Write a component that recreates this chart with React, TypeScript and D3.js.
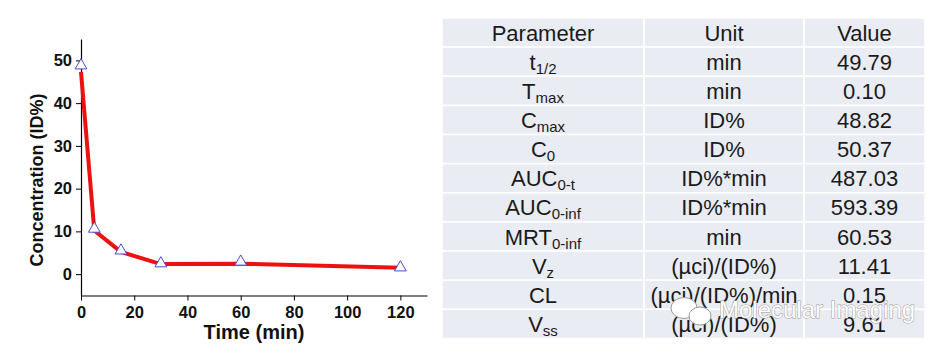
import { useEffect, useRef } from "react";
import * as d3 from "d3";

// measured samples (triangles)
const sampleTime = [0, 5, 15, 30, 60, 120];
const sampleConc = [48.8, 10.6, 5.5, 2.5, 2.9, 1.55];

// red fitted curve
const fitTime = [0, 5, 15, 30, 60, 120];
const fitConc = [47.3, 10.2, 5.2, 2.35, 2.45, 1.5];

const xMajorTicks = [0, 20, 40, 60, 80, 100, 120];
const xMinorTicks = [10, 30, 50, 70, 90, 110, 130];
const yMajorTicks = [0, 10, 20, 30, 40, 50];
const yMinorTicks = [-5, 5, 15, 25, 35, 45, 55];

// PK parameter table
const tableHeader = ["Parameter", "Unit", "Value"];
const paramMain = ["t", "T", "C", "C", "AUC", "AUC", "MRT", "V", "CL", "V"];
const paramSub = ["1/2", "max", "max", "0", "0-t", "0-inf", "0-inf", "z", "", "ss"];
const paramUnit = [
  "min",
  "min",
  "ID%",
  "ID%",
  "ID%*min",
  "ID%*min",
  "min",
  "(µci)/(ID%)",
  "(µci)/(ID%)/min",
  "(µci)/(ID%)",
];
const paramValue = ["49.79", "0.10", "48.82", "50.37", "487.03", "593.39", "60.53", "11.41", "0.15", "9.61"];

const W = 949;
const H = 354;
const FONT = "Arial, 'Liberation Sans', Helvetica, sans-serif";

const App = () => {
  const ref = useRef<SVGSVGElement>(null);

  useEffect(() => {
    const svg = d3.select(ref.current);
    svg.selectAll("*").remove();

    // ---- chart ----
    const x = d3.scaleLinear().domain([0, 130]).range([81, 427]);
    const y = d3.scaleLinear().domain([-5, 55]).range([295.5, 39]);

    const gx = svg.append("g").attr("transform", `translate(0,${y(-5)})`);
    gx.call(d3.axisBottom(x).tickValues(xMinorTicks).tickSize(3).tickSizeOuter(0).tickFormat(() => ""));
    gx.call(d3.axisBottom(x).tickValues(xMajorTicks).tickSize(5).tickSizeOuter(0).tickPadding(6));

    const gy = svg.append("g").attr("transform", `translate(${x(0)},0)`);
    gy.call(d3.axisLeft(y).tickValues(yMinorTicks).tickSize(3).tickSizeOuter(0).tickFormat(() => ""));
    gy.call(d3.axisLeft(y).tickValues(yMajorTicks).tickSize(5).tickSizeOuter(0).tickPadding(4));

    svg
      .selectAll(".domain")
      .attr("stroke", "#000")
      .attr("stroke-width", 1.2);
    svg.selectAll(".tick line").attr("stroke", "#000");
    svg
      .selectAll(".tick text")
      .attr("font-family", FONT)
      .attr("font-size", 16.5)
      .attr("font-weight", "bold")
      .attr("fill", "#111");

    const fit = fitTime.map((t, i) => ({ t, c: fitConc[i] }));
    const line = d3
      .line<{ t: number; c: number }>()
      .x((d) => x(d.t))
      .y((d) => y(d.c));
    svg
      .append("path")
      .datum(fit)
      .attr("fill", "none")
      .attr("stroke", "#ee1111")
      .attr("stroke-width", 4)
      .attr("stroke-linejoin", "round")
      .attr("d", line);

    const tri = d3.symbol().type(d3.symbolTriangle).size(60);
    svg
      .selectAll("path.pt")
      .data(sampleTime.map((t, i) => ({ t, c: sampleConc[i] })))
      .enter()
      .append("path")
      .attr("class", "pt")
      .attr("transform", (d) => `translate(${x(d.t)},${y(d.c)})`)
      .attr("d", tri)
      .attr("fill", "#fff")
      .attr("stroke", "#4a4ad0")
      .attr("stroke-width", 1);

    svg
      .append("text")
      .attr("x", 254)
      .attr("y", 339)
      .attr("text-anchor", "middle")
      .attr("font-family", FONT)
      .attr("font-size", 20)
      .attr("font-weight", "bold")
      .attr("fill", "#111")
      .text("Time (min)");

    svg
      .append("text")
      .attr("transform", "translate(43,180) rotate(-90)")
      .attr("text-anchor", "middle")
      .attr("font-family", FONT)
      .attr("font-size", 18)
      .attr("font-weight", "bold")
      .attr("fill", "#111")
      .text("Concentration (ID%)");

    // ---- table ----
    const colEdges = [442, 644, 804, 925];
    const nRows = paramMain.length + 1;
    const row = d3.scaleLinear().domain([0, nRows]).range([18, 338.5]);
    const rowH = row(1) - row(0);

    const tbl = svg.append("g");
    for (let r = 0; r < nRows; r++) {
      for (let c = 0; c < 3; c++) {
        tbl
          .append("rect")
          .attr("x", colEdges[c])
          .attr("y", row(r))
          .attr("width", colEdges[c + 1] - colEdges[c])
          .attr("height", rowH)
          .attr("fill", "#e9ecf2")
          .attr("stroke", "#fff")
          .attr("stroke-width", 1.5);
      }
    }

    const colMid = (c: number) => (colEdges[c] + colEdges[c + 1]) / 2;
    const cellText = (r: number, c: number) =>
      tbl
        .append("text")
        .attr("x", colMid(c))
        .attr("y", row(r) + rowH / 2 + 8)
        .attr("text-anchor", "middle")
        .attr("font-family", FONT)
        .attr("font-size", 22)
        .attr("fill", "#1a1a1a");

    tableHeader.forEach((h, c) => cellText(0, c).text(h));
    paramMain.forEach((p, i) => {
      const t = cellText(i + 1, 0);
      t.append("tspan").text(p);
      if (paramSub[i]) {
        t.append("tspan").attr("font-size", 15).attr("dy", 4).text(paramSub[i]);
      }
      cellText(i + 1, 1).text(paramUnit[i]);
      cellText(i + 1, 2).text(paramValue[i]);
    });

    // ---- watermark ----
    const wm = svg.append("g");
    wm.append("ellipse")
      .attr("cx", 684)
      .attr("cy", 308)
      .attr("rx", 13)
      .attr("ry", 10.5)
      .attr("fill", "#fff")
      .attr("stroke", "#999")
      .attr("stroke-width", 1);
    wm.append("ellipse")
      .attr("cx", 700)
      .attr("cy", 316)
      .attr("rx", 11)
      .attr("ry", 9)
      .attr("fill", "#fff")
      .attr("stroke", "#999")
      .attr("stroke-width", 1);
    wm.append("text")
      .attr("x", 719)
      .attr("y", 318)
      .attr("font-family", FONT)
      .attr("font-size", 24)
      .attr("fill", "#fff")
      .attr("stroke", "#999")
      .attr("stroke-width", 1)
      .attr("paint-order", "stroke")
      .text("Molecular Imaging");
  }, []);

  return (
    <svg
      ref={ref}
      width={W}
      height={H}
      style={{ position: "absolute", left: 0, top: 0, background: "#fff" }}
    />
  );
};

export default App;
